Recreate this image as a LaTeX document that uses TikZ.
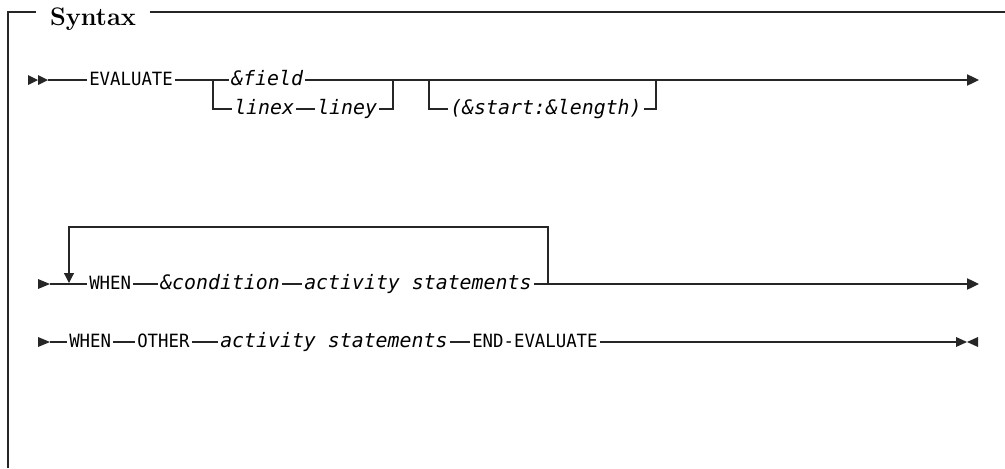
\documentclass[tikz,border=0pt]{standalone}
\usepackage{fontspec}
\newfontfamily\railmono{DejaVu Sans Mono}
\newfontfamily\railkey{DejaVu Sans Mono}[FakeStretch=0.95]
\usetikzlibrary{positioning, arrows.meta}

\tikzset{
  rail/.style={line width=0.9pt, black!85},
  word/.style={inner xsep=1.5pt, inner ysep=0pt, text height=8.2pt, text depth=0pt, anchor=west},
  kw/.style={word, font=\railkey\fontsize{13.7}{16}\selectfont},
  var/.style={word, font=\railmono\itshape\fontsize{14.9}{17}\selectfont},
  endtip/.style={-{Triangle[length=9pt,width=8.5pt]}},
}

\begin{document}
\begin{tikzpicture}[x=0.75pt, y=-0.75pt]
    \useasboundingbox (0,0) rectangle (1005,468);

    % frame and title
    \coordinate (frameTL) at (8,12);
    \coordinate (frameTR) at (1005,12);
    \node[font=\fontsize{19}{22}\selectfont\bfseries, inner xsep=10pt, anchor=base] (title) at (93,25) {Syntax};
    \draw[rail] (8,468) -- (frameTL) -- (title.west |- frameTL);
    \draw[rail] (title.east |- frameTL) -- (frameTR);

    % first row
    \foreach \x in {28,38}
        \fill[black!85] (\x,75) -- ++(10,5) -- ++(-10,5) -- cycle;
    \coordinate (s1) at (48,80);
    \node[kw] (eval) at (87,80) {EVALUATE};
    \coordinate (optA) at (213,80);
    \node[var] (field) at (229,80) {\&field};
    \node[var] (linex) at (232,109) {linex};
    \node[var] (liney) at (315,109) {liney};
    \coordinate (optAend) at (393,80);
    \coordinate (optB) at (429,80);
    \node[var] (slen) at (448,109) {(\&start:\&length)};
    \coordinate (optBend) at (656,80);
    \coordinate (end1) at (979,80);

    \draw[rail] (s1) -- (eval.west);
    \draw[rail] (eval.east) -- (optA) -- (field.west);
    \draw[rail] (optA) |- (linex.west);
    \draw[rail] (linex.east) -- (liney.west);
    \draw[rail] (liney.east) -| (optAend);
    \draw[rail] (optB) |- (slen.west);
    \draw[rail] (slen.east) -| (optBend);
    \draw[rail, endtip] (field.east) -- (end1);

    % second row, repeated WHEN
    \foreach \y in {284,342}
        \fill[black!85] (38,\y-5) -- ++(12,5) -- ++(-12,5) -- cycle;
    \coordinate (s2) at (50,284);
    \coordinate (loopL) at (69,283);
    \coordinate (loopR) at (548,284);
    \node[kw] (when1) at (87,284) {WHEN};
    \node[var] (cond) at (158,284) {\&condition};
    \node[var] (act1) at (302,284) {activity statements};
    \coordinate (end2) at (979,284);

    \draw[rail] (s2) -- (when1.west);
    \draw[rail] (when1.east) -- (cond.west);
    \draw[rail] (cond.east) -- (act1.west);
    \draw[rail, endtip] (act1.east) -- (end2);
    \draw[rail, -{Triangle[length=7.5pt,width=7.5pt]}] (loopR) -- ++(0,-57) -| (loopL);

    % third row
    \coordinate (s3) at (50,342);
    \node[kw] (when2) at (67,342) {WHEN};
    \node[kw] (other) at (135,342) {OTHER};
    \node[var] (act2) at (218,342) {activity statements};
    \node[kw] (endeval) at (470,342) {END-EVALUATE};
    \coordinate (stop) at (956,342);

    \draw[rail] (s3) -- (when2.west);
    \draw[rail] (when2.east) -- (other.west);
    \draw[rail] (other.east) -- (act2.west);
    \draw[rail] (act2.east) -- (endeval.west);
    \draw[rail] (endeval.east) -- (stop);
    \fill[black!85] (956,337) -- (967,342) -- (956,347) -- cycle;
    \fill[black!85] (978,337) -- (967,342) -- (978,347) -- cycle;
\end{tikzpicture}
\end{document}
